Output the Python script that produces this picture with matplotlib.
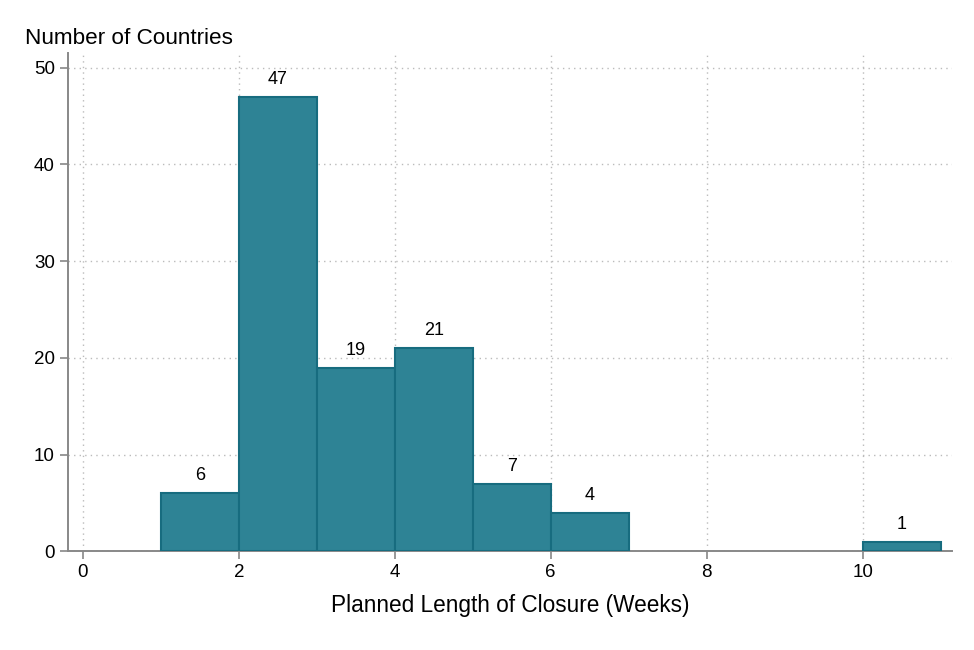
import numpy as np
import matplotlib.pyplot as plt

plt.rcParams['font.family'] = ['Liberation Sans', 'DejaVu Sans']

bin_left = [1, 2, 3, 4, 5, 6, 10]
counts = [6, 47, 19, 21, 7, 4, 1]
x_ticks = [0, 2, 4, 6, 8, 10]
y_ticks = [0, 10, 20, 30, 40, 50]

fig = plt.figure(figsize=(9.74, 6.5), dpi=100)
ax = fig.add_axes([0.0698, 0.152, 0.908, 0.766])

bars = ax.bar(bin_left, counts, width=1, align='edge',
              color='#2e8395', edgecolor='#176c7f', linewidth=1.5, zorder=3)
for b, c in zip(bars, counts):
    ax.text(b.get_x() + 0.5, c + 0.9, str(c), ha='center', va='bottom', fontsize=13)

ax.set_xlim(-0.19, 11.15)
ax.set_ylim(0, 51.5)
ax.set_xticks(x_ticks)
ax.set_yticks(y_ticks)
ax.tick_params(labelsize=13.5, color='#888888', length=6, width=1.2)
ax.grid(True, linestyle=(0, (1, 3)), color='#bbbbbb', linewidth=1, zorder=0)
for s in ['top', 'right']:
    ax.spines[s].set_visible(False)
for s in ['left', 'bottom']:
    ax.spines[s].set_color('#888888')
    ax.spines[s].set_linewidth(1.4)

ax.set_xlabel('Planned Length of Closure (Weeks)', fontsize=16.3, labelpad=9)
fig.text(0.026, 0.925, 'Number of Countries', fontsize=16.2, ha='left', va='bottom')

fig.savefig('out.png', dpi=100)
